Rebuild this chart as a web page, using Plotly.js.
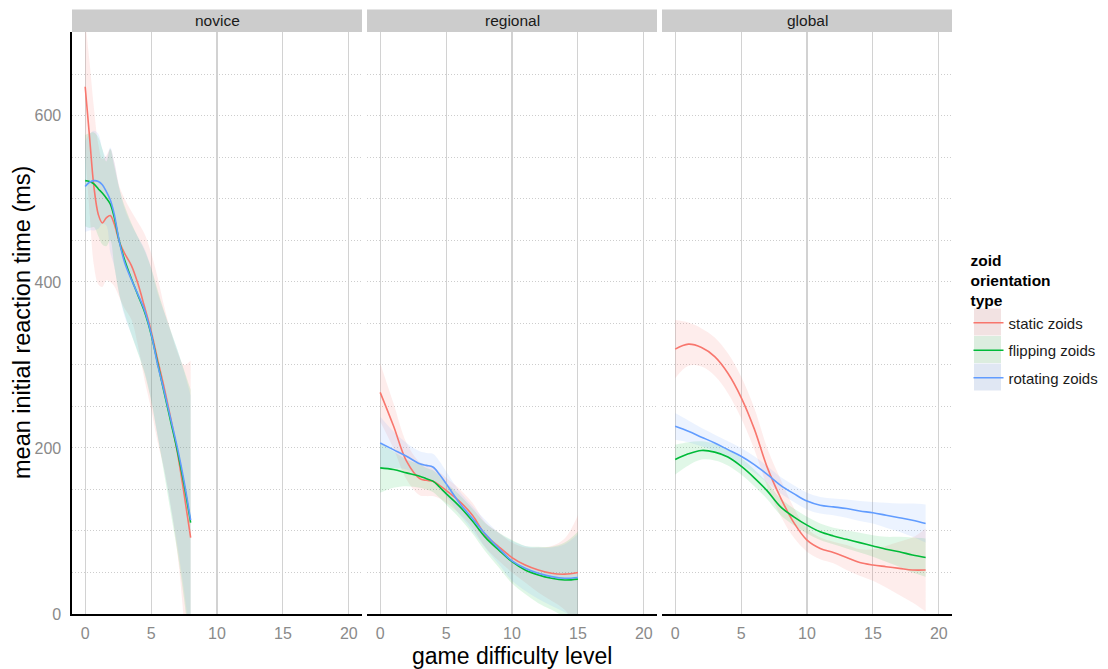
<!DOCTYPE html>
<html><head><meta charset="utf-8">
<script src="https://cdn.plot.ly/plotly-3.0.1.min.js"></script>
<style>html,body{margin:0;padding:0;background:#fff}#chart{width:1108px;height:669px}</style>
</head><body><div id="chart"></div>
<script>
// ---- data ----
const panelNames = ['novice', 'regional', 'global'];
const seriesNames = ['static zoids', 'flipping zoids', 'rotating zoids'];
const xTickVals = [0, 5, 10, 15, 20];
const yTickVals = [0, 200, 400, 600];

const noviceX = [0, 0.33, 0.66, 1, 1.3, 1.6, 1.9, 2.2, 2.6, 3, 3.5, 4, 4.5, 5, 5.5, 6, 6.5, 7, 7.5, 8];
const noviceStatic   = [635, 575, 515, 481, 471, 477, 480, 470, 448, 434, 420, 398, 370, 341, 306, 272, 235, 194, 145, 92];
const noviceStaticLo = [555, 485, 420, 397, 394, 402, 400, 395, 381, 368, 355, 324, 282, 247, 207, 174, 130, 73, -10, -121];
const noviceStaticHi = [715, 665, 610, 565, 548, 552, 560, 545, 515, 500, 485, 472, 458, 435, 405, 370, 340, 315, 300, 305];
const noviceFlipping   = [522, 521, 518, 512, 507, 501, 494, 478, 448, 426, 404, 384, 364, 337, 302, 266, 231, 196, 156, 110];
const noviceFlippingLo = [467, 465, 466, 455, 445, 443, 450, 420, 384, 361, 337, 314, 290, 257, 214, 168, 121, 74, 18, -50];
const noviceFlippingHi = [577, 579, 580, 574, 560, 545, 560, 540, 512, 491, 471, 454, 438, 417, 390, 364, 341, 318, 294, 270];
const noviceRotating   = [515, 520, 522, 521, 517, 509, 499, 482, 448, 423, 403, 385, 366, 338, 300, 268, 234, 200, 160, 113];
const noviceRotatingLo = [460, 462, 462, 464, 470, 468, 436, 419, 384, 358, 337, 316, 292, 259, 214, 173, 128, 82, 28, -37];
const noviceRotatingHi = [570, 578, 582, 578, 560, 550, 562, 545, 512, 488, 469, 454, 440, 417, 386, 363, 340, 318, 292, 263];

const regionalX = [0, 1, 2, 3, 3.5, 4, 4.5, 5, 6, 7, 8, 9, 10, 11, 12, 13, 14, 15];
const regionalStatic   = [267, 227, 184, 163, 161, 160, 155, 149, 136, 119, 95, 81, 68, 59, 53, 49, 48, 50];
const regionalStaticLo = [232, 200, 162, 143, 142, 142, 139, 134, 121, 104, 80, 64, 50, 38, 26, 16, 5, -19];
const regionalStaticHi = [302, 254, 206, 183, 180, 178, 171, 164, 151, 134, 110, 98, 86, 80, 80, 82, 91, 119];
const regionalFlipping   = [176, 174, 170, 166, 163, 160, 153, 145, 130, 112, 92, 77, 63, 53, 47, 43, 41, 42];
const regionalFlippingLo = [146, 152, 154, 152, 150, 147, 140, 132, 116, 97, 75, 56, 37, 24, 13, 5, -4, -15];
const regionalFlippingHi = [206, 196, 186, 180, 176, 173, 166, 158, 144, 127, 109, 98, 89, 82, 81, 81, 86, 99];
const regionalRotating   = [206, 198, 190, 181, 179, 177, 168, 157, 134, 115, 96, 79, 64, 55, 49, 45, 43, 44];
const regionalRotatingLo = [174, 176, 174, 166, 164, 161, 152, 142, 120, 100, 79, 60, 40, 28, 18, 10, 2, -8];
const regionalRotatingHi = [238, 220, 206, 196, 194, 193, 184, 172, 148, 130, 113, 98, 88, 82, 80, 80, 84, 96];

const globalX = [0, 1, 2, 3, 4, 5, 6, 7, 8, 9, 10, 11, 12, 13, 14, 15, 16, 17, 18, 19];
const globalStatic   = [319, 325, 321, 310, 290, 261, 223, 176, 140, 110, 89, 79, 74, 68, 62, 59, 57, 55, 53, 53];
const globalStaticLo = [284, 299, 298, 287, 266, 236, 198, 153, 118, 92, 75, 66, 61, 53, 46, 40, 32, 23, 14, 3];
const globalStaticHi = [354, 351, 344, 333, 314, 286, 248, 199, 162, 128, 103, 92, 87, 83, 78, 78, 82, 87, 92, 103];
const globalFlipping   = [186, 193, 197, 195, 189, 178, 164, 148, 129, 117, 107, 99, 94, 90, 86, 82, 78, 75, 71, 68];
const globalFlippingLo = [168, 179, 186, 185, 179, 168, 154, 138, 119, 107, 97, 89, 84, 79, 74, 69, 63, 57, 50, 45];
const globalFlippingHi = [204, 207, 208, 205, 199, 188, 174, 158, 139, 127, 117, 109, 104, 101, 98, 95, 93, 93, 92, 91];
const globalRotating   = [226, 220, 213, 206, 198, 190, 180, 168, 155, 145, 136, 131, 129, 127, 124, 122, 119, 116, 113, 109];
const globalRotatingLo = [210, 207, 202, 196, 188, 180, 170, 158, 145, 135, 126, 121, 119, 116, 112, 109, 104, 99, 93, 86];
const globalRotatingHi = [242, 233, 224, 216, 208, 200, 190, 178, 165, 155, 146, 141, 139, 138, 136, 135, 134, 133, 133, 132];

// ---- build ----
const lineColors = ['#F8766D', '#00BA38', '#619CFF'];
const bandColors = ['rgba(248,118,109,0.13)', 'rgba(0,186,56,0.12)', 'rgba(97,156,255,0.12)'];
const keyColors = ['#F2E2E2', '#DCEDDF', '#E0E7F3'];

const panels = [
  {x: noviceX, series: [[noviceStatic, noviceStaticLo, noviceStaticHi], [noviceFlipping, noviceFlippingLo, noviceFlippingHi], [noviceRotating, noviceRotatingLo, noviceRotatingHi]]},
  {x: regionalX, series: [[regionalStatic, regionalStaticLo, regionalStaticHi], [regionalFlipping, regionalFlippingLo, regionalFlippingHi], [regionalRotating, regionalRotatingLo, regionalRotatingHi]]},
  {x: globalX, series: [[globalStatic, globalStaticLo, globalStaticHi], [globalFlipping, globalFlippingLo, globalFlippingHi], [globalRotating, globalRotatingLo, globalRotatingHi]]}
];

const traces = [];
panels.forEach((p, pi) => {
  const xa = pi === 0 ? 'x' : 'x' + (pi + 1);
  const ya = pi === 0 ? 'y' : 'y' + (pi + 1);
  p.series.forEach((s, si) => {
    traces.push({type: 'scatter', mode: 'lines', x: p.x, y: s[1], xaxis: xa, yaxis: ya,
      line: {width: 0, shape: 'spline'}, showlegend: false, hoverinfo: 'skip'});
    traces.push({type: 'scatter', mode: 'lines', x: p.x, y: s[2], xaxis: xa, yaxis: ya,
      line: {width: 0, shape: 'spline'}, fill: 'tonexty', fillcolor: bandColors[si],
      showlegend: false, hoverinfo: 'skip'});
  });
});
panels.forEach((p, pi) => {
  const xa = pi === 0 ? 'x' : 'x' + (pi + 1);
  const ya = pi === 0 ? 'y' : 'y' + (pi + 1);
  p.series.forEach((s, si) => {
    traces.push({type: 'scatter', mode: 'lines', x: p.x, y: s[0], xaxis: xa, yaxis: ya,
      name: seriesNames[si], legendgroup: seriesNames[si], showlegend: pi === 0,
      line: {color: lineColors[si], width: 1.6, shape: 'spline'}});
  });
});

const W = 1108, H = 669;
const mL = 72, mR = 156, mT = 32, mB = 55;
const pw = W - mL - mR, ph = H - mT - mB;
const doms = [[0, 290 / pw], [295 / pw, 585 / pw], [590 / pw, 1]];
const fontFam = '"Liberation Sans", Arial, Helvetica, sans-serif';

const gridGrey = '#D2D2D2';
const dotGrey = '#CDCDCD';
const layout = {
  width: W, height: H,
  margin: {l: mL, r: mR, t: mT, b: mB, pad: 0, autoexpand: false},
  paper_bgcolor: '#fff', plot_bgcolor: '#fff',
  font: {family: fontFam, size: 15.5, color: '#1a1a1a'},
  showlegend: true,
  legend: {
    xref: 'container', yref: 'container',
    x: 968.5 / W, xanchor: 'left', y: 1 - 246 / H, yanchor: 'top',
    bgcolor: 'rgba(0,0,0,0)', font: {size: 15, color: '#1a1a1a'},
    title: {text: '<b>zoid<br>orientation<br>type</b>', font: {size: 15.5, color: '#000'}},
    tracegroupgap: 5, itemwidth: 30
  },
  shapes: [],
  annotations: []
};

panels.forEach((p, pi) => {
  const sfx = pi === 0 ? '' : String(pi + 1);
  layout['xaxis' + sfx] = {
    domain: doms[pi], anchor: 'y' + sfx, range: [-1, 21],
    tickmode: 'array', tickvals: xTickVals, ticktext: xTickVals.map(String),
    ticks: '', ticklabelstandoff: 4,
    tickfont: {size: 16, color: '#8a8a8a'},
    showgrid: true, gridcolor: gridGrey, gridwidth: 1.1, zeroline: false,
    showline: true, linecolor: '#000', linewidth: 1.6, fixedrange: true
  };
  layout['yaxis' + sfx] = {
    domain: [0, 1], anchor: 'x' + sfx, range: [0, 701],
    tickmode: 'array', tickvals: yTickVals, ticktext: yTickVals.map(String),
    showticklabels: pi === 0, ticks: '', ticklabelstandoff: 6,
    tickfont: {size: 16, color: '#8a8a8a'},
    showgrid: true, gridcolor: dotGrey, gridwidth: 1, griddash: '1px,2px', zeroline: false,
    minor: {tick0: 0, dtick: 50, showgrid: true, gridcolor: dotGrey, gridwidth: 1, griddash: '1px,2px'},
    showline: pi === 0, linecolor: '#000', linewidth: 1.6, fixedrange: true
  };
  if (pi > 0) layout['yaxis' + sfx].matches = 'y';
  // strip
  layout.shapes.push({type: 'rect', xref: 'paper', yref: 'paper', x0: doms[pi][0], x1: doms[pi][1],
    y0: 1, y1: 1 + 22.6 / ph, fillcolor: '#CCCCCC', line: {width: 0}, layer: 'above'});
  layout.annotations.push({xref: 'paper', yref: 'paper', x: (doms[pi][0] + doms[pi][1]) / 2,
    y: 1 + 11.3 / ph, text: panelNames[pi], showarrow: false, xanchor: 'center', yanchor: 'middle',
    font: {size: 15.5, color: '#1a1a1a'}});
});

// axis titles
layout.annotations.push({xref: 'paper', yref: 'paper', x: (22 - mL) / pw, y: 0.5,
  text: 'mean initial reaction time (ms)', textangle: -90, showarrow: false,
  xanchor: 'center', yanchor: 'middle', font: {size: 23.5, color: '#000'}});
layout.annotations.push({xref: 'paper', yref: 'paper', x: 0.5, y: (614 - 655.5) / ph,
  text: 'game difficulty level', showarrow: false, xanchor: 'center', yanchor: 'middle',
  font: {size: 23, color: '#000'}});

// legend key backgrounds
const keyCenters = [322, 349.5, 377];
keyCenters.forEach((c, i) => {
  layout.shapes.push({type: 'rect', xref: 'paper', yref: 'paper',
    x0: (974 - mL) / pw, x1: (1001 - mL) / pw, y0: (614 - c + 13.5) / ph, y1: (614 - c - 13.5) / ph,
    fillcolor: keyColors[i], line: {width: 0}, layer: 'above'});
});

Plotly.newPlot('chart', traces, layout, {displayModeBar: false, staticPlot: true});
</script>
</body></html>
